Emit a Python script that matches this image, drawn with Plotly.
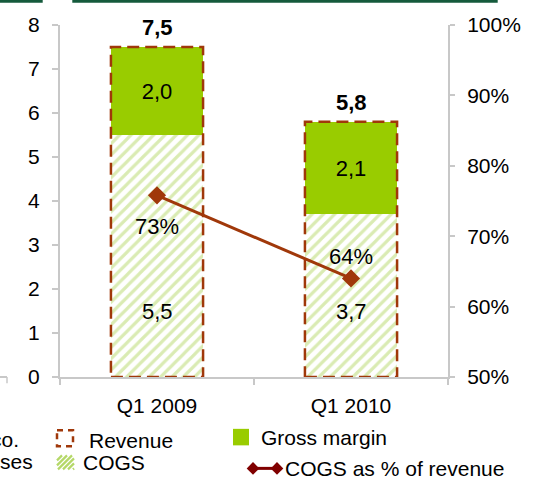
import plotly.graph_objects as go

# ---------------- data ----------------
categories = ["Q1 2009", "Q1 2010"]
revenue = [7.5, 5.8]
cogs = [5.5, 3.7]
gross_margin = [2.0, 2.1]
cogs_pct = [75.8, 64.0]
cogs_pct_labels = ["73%", "64%"]
left_ticks = [0, 1, 2, 3, 4, 5, 6, 7, 8]
right_ticks = [50, 60, 70, 80, 90, 100]
right_tick_text = ["50%", "60%", "70%", "80%", "90%", "100%"]

# ---------------- styling ----------------
FONT = "Liberation Sans, Arial, sans-serif"
FS = 21
AXIS_GREY = "#C8C8C8"
BROWN = "#A0380A"
GREEN = "#99CC00"
HATCH = "#B5D868"
MAROON = "#800000"
DKGREEN = "#155A3C"
BAR_W = 0.475

W, H = 533, 477
L, R, T, B = 60, 448, 25, 376.7


def px(x):
    return (x - L) / (R - L)


def py(y):
    return (B - y) / (B - T)


def fmt(v):
    return f"{v:.1f}".replace(".", ",")


fig = go.Figure()

fig.add_bar(
    x=categories, y=cogs, name="COGS", width=BAR_W,
    marker=dict(color="white", line=dict(width=0),
                pattern=dict(shape="/", fgcolor=HATCH, bgcolor="white",
                             size=8, solidity=0.4)),
    hoverinfo="skip",
)
fig.add_bar(
    x=categories, y=gross_margin, name="Gross margin", width=BAR_W,
    marker=dict(color=GREEN, line=dict(width=0)),
    text=[fmt(v) for v in gross_margin], textposition="inside",
    insidetextanchor="middle", textangle=0,
    textfont=dict(size=22, color="black", family=FONT),
    hoverinfo="skip",
)
fig.add_scatter(
    x=categories, y=cogs_pct, yaxis="y2", mode="lines+markers",
    name="COGS as % of revenue",
    line=dict(color=BROWN, width=3),
    marker=dict(symbol="diamond", size=14, color=BROWN),
    hoverinfo="skip",
)

# revenue dashed outlines + totals
for i, r in enumerate(revenue):
    fig.add_shape(type="rect", xref="x", yref="y",
                  x0=i - BAR_W / 2, x1=i + BAR_W / 2, y0=0, y1=r,
                  line=dict(color=BROWN, width=2.5, dash="12px,6px"))
    fig.add_annotation(x=i, y=r, xref="x", yref="y", text=f"<b>{fmt(r)}</b>",
                       showarrow=False, yanchor="bottom", yshift=5,
                       font=dict(size=22, color="black", family=FONT))

# COGS value labels
for i, c in enumerate(cogs):
    fig.add_annotation(x=i, y=1.5, xref="x", yref="y", text=fmt(c),
                       showarrow=False, font=dict(size=22, color="black", family=FONT))

# percentage labels
pct_shift = [-31, 22]
for i, (p, lab) in enumerate(zip(cogs_pct, cogs_pct_labels)):
    fig.add_annotation(x=i, y=p, xref="x", yref="y2", text=lab,
                       showarrow=False, yshift=pct_shift[i],
                       font=dict(size=22, color="black", family=FONT))

# ---------------- decorations (page furniture) ----------------
for x0, x1 in [(0, 42.7), (72.3, 497.7)]:
    fig.add_shape(type="rect", xref="paper", yref="paper",
                  x0=px(x0), x1=px(x1), y0=py(0), y1=py(2.7),
                  line=dict(width=0), fillcolor=DKGREEN)
fig.add_shape(type="line", xref="paper", yref="paper",
              x0=px(0), x1=px(7), y0=py(376.7), y1=py(376.7),
              line=dict(color=AXIS_GREY, width=2))
fig.add_shape(type="line", xref="paper", yref="paper",
              x0=px(7), x1=px(7), y0=py(376.7), y1=py(383),
              line=dict(color=AXIS_GREY, width=1.5))

# ---------------- manual legend ----------------
fig.add_shape(type="rect", xref="paper", yref="paper",
              x0=px(57), x1=px(73), y0=py(430), y1=py(446),
              line=dict(color=BROWN, width=2.5, dash="6px,5px"))
hx0, hx1, hy0, hy1 = 57, 74, 455, 469
segs = []
step = 5
s = hx1 - hx0
hgt = hy1 - hy0
c = -hgt
while c < s:
    t0 = max(0, -c)
    t1 = min(hgt, s - c)
    if t1 > t0:
        xa, ya = hx0 + c + t0, hy1 - t0
        xb, yb = hx0 + c + t1, hy1 - t1
        segs.append(f"M{px(xa)},{py(ya)} L{px(xb)},{py(yb)}")
    c += step
fig.add_shape(type="path", xref="paper", yref="paper", path=" ".join(segs),
              line=dict(color=HATCH, width=2.2))
fig.add_shape(type="rect", xref="paper", yref="paper",
              x0=px(233), x1=px(249), y0=py(428.5), y1=py(445),
              line=dict(width=0), fillcolor=GREEN)
ly = 468
fig.add_shape(type="line", xref="paper", yref="paper",
              x0=px(250), x1=px(280), y0=py(ly), y1=py(ly),
              line=dict(color=MAROON, width=3))
for cx in (253, 277):
    d = 6.3
    path = (f"M{px(cx - d)},{py(ly)} L{px(cx)},{py(ly - d)} "
            f"L{px(cx + d)},{py(ly)} L{px(cx)},{py(ly + d)} Z")
    fig.add_shape(type="path", xref="paper", yref="paper", path=path,
                  line=dict(width=0), fillcolor=MAROON)

legend_texts = [
    ("Revenue", 87, 440, "left"),
    ("COGS", 81, 462, "left"),
    ("Gross margin", 259, 437, "left"),
    ("COGS as % of revenue", 283, 468, "left"),
    ("co.", 21, 439, "right"),
    ("ses", 35, 461, "right"),
]
for txt, x, y, anc in legend_texts:
    fig.add_annotation(xref="paper", yref="paper", x=px(x), y=py(y), text=txt,
                       showarrow=False, xanchor=anc, yanchor="middle",
                       font=dict(size=FS, color="black", family=FONT))

fig.update_layout(
    width=W, height=H,
    margin=dict(l=L, r=W - R, t=T, b=H - B, pad=0, autoexpand=False),
    paper_bgcolor="white", plot_bgcolor="white",
    barmode="stack", showlegend=False,
    font=dict(family=FONT, size=FS, color="black"),
    xaxis=dict(type="category", range=[-0.5, 1.5], showline=True,
               linecolor=AXIS_GREY, linewidth=2, ticks="outside",
               tickson="boundaries", ticklen=6, tickcolor=AXIS_GREY,
               tickwidth=1.5, showgrid=False, zeroline=False,
               ticklabelstandoff=9,
               tickfont=dict(size=FS, family=FONT)),
    yaxis=dict(range=[0, 8], tickvals=left_ticks, showline=True,
               linecolor=AXIS_GREY, linewidth=2, ticks="outside", ticklen=6,
               tickcolor=AXIS_GREY, tickwidth=1.5, showgrid=False,
               zeroline=False, ticklabelstandoff=8,
               tickfont=dict(size=FS, family=FONT)),
    yaxis2=dict(range=[50, 100], tickvals=right_ticks, ticktext=right_tick_text,
                overlaying="y", side="right", showline=True,
                linecolor=AXIS_GREY, linewidth=2, ticks="outside", ticklen=5,
                tickcolor=AXIS_GREY, tickwidth=1.5, showgrid=False,
                zeroline=False, ticklabelstandoff=8,
                tickfont=dict(size=FS, family=FONT)),
)

fig.write_html(
    "out.html",
    config={"displayModeBar": False},
    post_script="document.body.style.margin='0';document.body.style.overflow='hidden';",
)
